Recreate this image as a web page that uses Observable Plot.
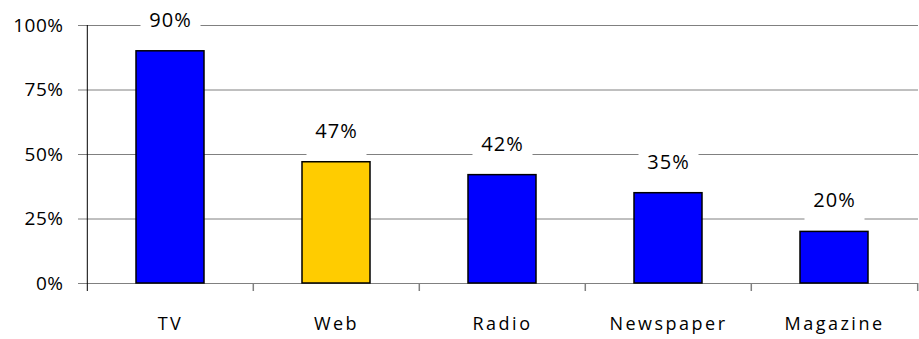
<!DOCTYPE html>
<html>
<head>
<meta charset="utf-8">
<script src="https://cdn.jsdelivr.net/npm/d3@7"></script>
<script src="https://cdn.jsdelivr.net/npm/@observablehq/plot@0.6"></script>
<style>
  html, body { margin: 0; padding: 0; background: #fff; }
  svg { display: block; }
  g[aria-label="x-axis tick label"] text { letter-spacing: 2.5px; }
  g[aria-label="y-axis tick label"] text { letter-spacing: 0.5px; }
  g[aria-label="text"] text { letter-spacing: 1px; }
</style>
</head>
<body>
<div id="chart"></div>
<script>
const categories = ["TV", "Web", "Radio", "Newspaper", "Magazine"];
const values = [90, 47, 42, 35, 20];
const barColors = ["#0000FF", "#FFCC00", "#0000FF", "#0000FF", "#0000FF"];
const yTicks = [0, 25, 50, 75, 100];
const gridTicks = [25, 50, 75, 100];

const data = categories.map((c, i) => ({cat: c, value: values[i], color: barColors[i]}));

const W = 919, H = 339;
const mL = 86, mR = 1, mT = 25, mB = 56;
const step = (W - mL - mR) / categories.length;
const plotH = H - mT - mB;
const px = p => p * 100 / plotH; // pixels -> data units on y
const font = "'Open Sans', sans-serif";

const chart = Plot.plot({
  width: W,
  height: H,
  marginLeft: mL,
  marginRight: mR,
  marginTop: mT,
  marginBottom: mB,
  style: {fontFamily: font, fontSize: "17px", color: "#000", background: "#fff"},
  x: {domain: categories, paddingInner: 0.59, paddingOuter: 0.295, axis: null, label: null},
  y: {domain: [0, 100], axis: null, label: null},
  marks: [
    Plot.ruleY(gridTicks, {stroke: "#808080", strokeWidth: 1}),
    Plot.ruleY([0], {stroke: "#808080", strokeWidth: 1.2}),
    // white boxes behind value labels
    Plot.ruleX(data, {x: "cat", y1: "value", y2: d => d.value + px(43), stroke: "white", strokeWidth: 60}),
    Plot.barY(data, {x: "cat", y: "value", fill: "color", stroke: "black", strokeWidth: 1.5}),
    // category boundary ticks
    Plot.ruleX(categories.slice(1), {x: d => d, dx: -step / 2, y1: 0, y2: -px(8), stroke: "#808080", strokeWidth: 1.5}),
    Plot.ruleX([categories[categories.length - 1]], {x: d => d, dx: step / 2, y1: 0, y2: -px(8), stroke: "#808080", strokeWidth: 1.5}),
    // y axis line
    Plot.ruleX([categories[0]], {x: d => d, dx: -step / 2, y1: -px(8), y2: 100, stroke: "black", strokeWidth: 1}),
    Plot.axisY({ticks: yTicks, tickSize: 8, tickPadding: 15, tickFormat: d => d + "%", stroke: "#808080", fontSize: 19, label: null}),
    Plot.axisX({tickSize: 0, tickPadding: 34, fontSize: 18, label: null}),
    Plot.text(data, {x: "cat", y: "value", text: d => d.value + "%", dy: -31, fontSize: 20, fill: "black"})
  ]
});
document.getElementById("chart").appendChild(chart);
</script>
</body>
</html>
